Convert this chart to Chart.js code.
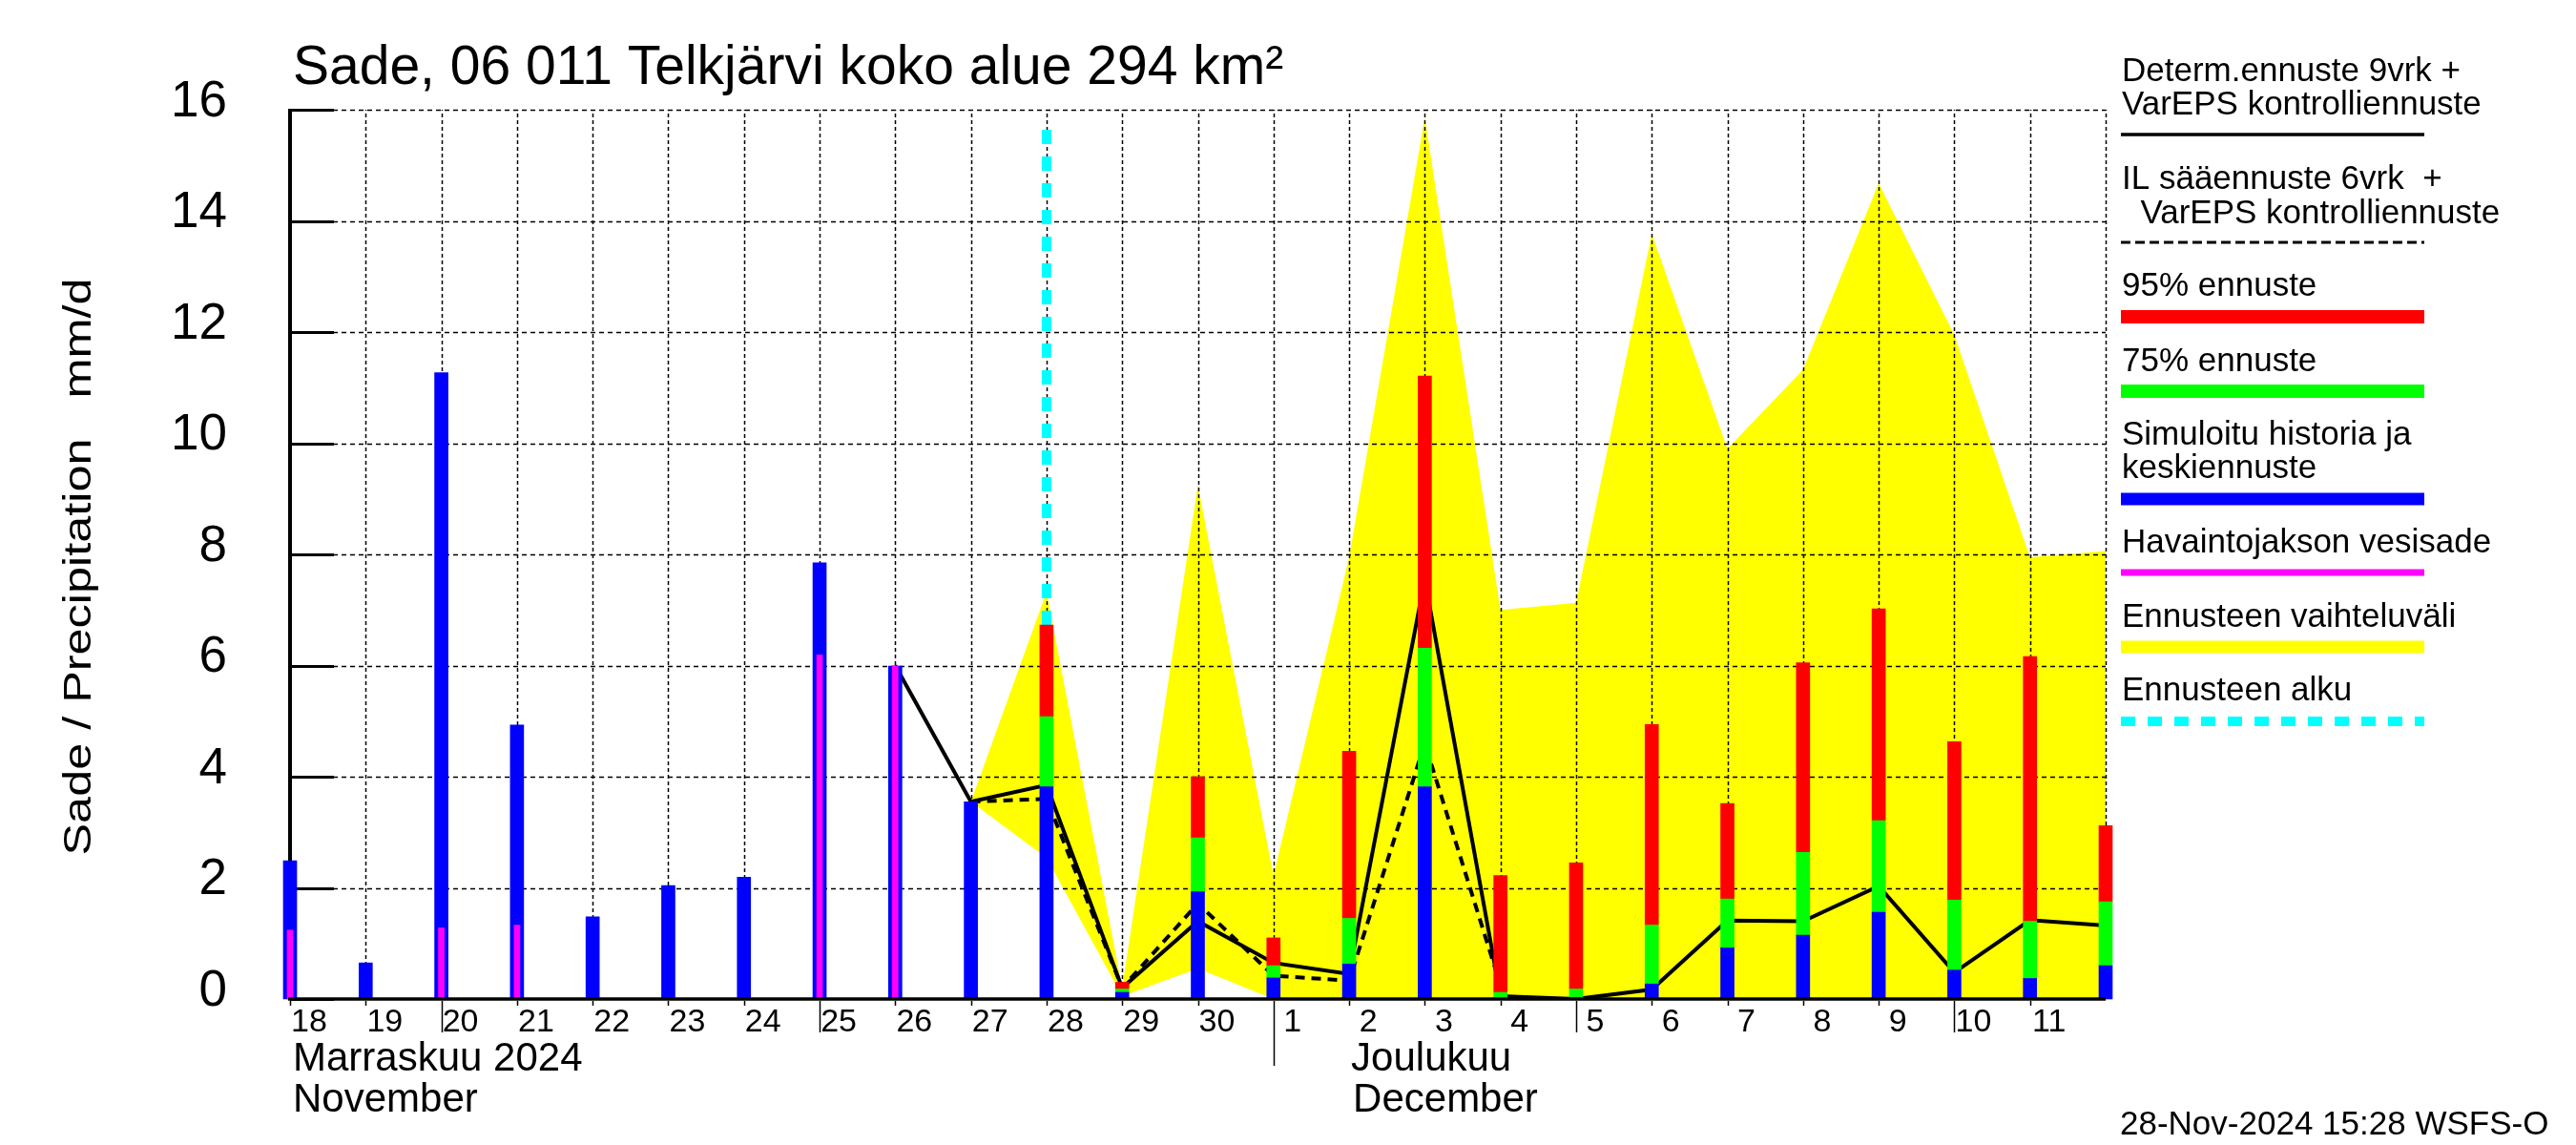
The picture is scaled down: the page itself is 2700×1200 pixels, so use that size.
<!DOCTYPE html>
<html lang="fi">
<head>
<meta charset="UTF-8">
<title>Sade, 06 011 Telkjärvi</title>
<style>
  html, body { margin: 0; padding: 0; background: #fff; }
  canvas { display: block; }
</style>
</head>
<body>
<canvas id="cvs" width="2700" height="1200"></canvas>
<script src="https://cdn.jsdelivr.net/npm/chart.js@4.4.1/dist/chart.umd.min.js"></script>
<script>
// x = day index, 0 = 18 Nov ... 24 = 12 Dec
const dayLabels = ['18','19','20','21','22','23','24','25','26','27','28','29','30',
                   '1','2','3','4','5','6','7','8','9','10','11',''];
const monthStart = 13;          // 1 Dec
const forecastStart = 10;       // 28 Nov
const forecastStartTop = 15.8;

// simulated history (blue) and observed rain (magenta), days 18..27
const histBlue = [2.49, 0.65, 11.27, 4.93, 1.48, 2.04, 2.19, 7.85, 5.99, 3.55];
const obsRain  = [1.24, 0, 1.28, 1.33, 0, 0, 0, 6.19, 5.99, 0];

// forecast bars, days 28 Nov .. 12 Dec (top of each colour)
const fcMean = [3.82, 0.12, 1.93, 0.38, 0.63, 3.82, 0, 0.02, 0.27, 0.92, 1.15, 1.56, 0.52, 0.37, 0.60];
const fc75   = [5.08, 0.18, 2.90, 0.60, 1.45, 6.31, 0.12, 0.18, 1.33, 1.80, 2.64, 3.21, 1.78, 1.40, 1.75];
const fc95   = [6.73, 0.30, 4.00, 1.10, 4.46, 11.21, 2.22, 2.45, 4.94, 3.52, 6.05, 7.02, 4.63, 6.16, 3.12];

// forecast range (yellow), days 27 Nov .. 12 Dec
const rangeStart = 9;
const rangeHigh = [3.55, 7.32, 0.20, 9.24, 2.22, 7.95, 15.86, 7.00, 7.13, 13.77, 9.90, 11.32, 14.68, 11.95, 7.95, 8.06];
const rangeLow  = [3.55, 2.54, 0.05, 0.55, 0, 0, 0, 0, 0, 0, 0, 0, 0, 0, 0, 0];

// deterministic forecast (solid), from 26 Nov
const determStart = 8;
const determ = [6.0, 3.55, 3.85, 0.2, 1.40, 0.65, 0.45, 7.55, 0.05, 0.0, 0.17, 1.41, 1.40, 2.03, 0.48, 1.42, 1.32];
// IL forecast (dashed), from 27 Nov
const ilStart = 9;
const ilFc = [3.55, 3.60, 0.2, 1.72, 0.42, 0.33, 4.60, 0.25];

const legendItems = [
  { text: ['Determ.ennuste 9vrk +', 'VarEPS kontrolliennuste'], color: '#000', width: 3.5, dash: [] },
  { text: ['IL sääennuste 6vrk  +', '  VarEPS kontrolliennuste'], color: '#000', width: 3, dash: [10, 5] },
  { text: ['95% ennuste'], color: '#ff0000', width: 14, dash: [] },
  { text: ['75% ennuste'], color: '#00ff00', width: 14, dash: [] },
  { text: ['Simuloitu historia ja', 'keskiennuste'], color: '#0000ff', width: 13, dash: [] },
  { text: ['Havaintojakson vesisade'], color: '#ff00ff', width: 7, dash: [] },
  { text: ['Ennusteen vaihteluväli'], color: '#ffff00', width: 13, dash: [] },
  { text: ['Ennusteen alku'], color: '#00ffff', width: 10, dash: [15, 13] }
];

const pts = (arr, start) => arr.map((v, i) => ({ x: start + i, y: v }));
const stack = (lo, hi, start) => hi.map((v, i) => ({ x: start + i, y: [lo ? lo[i] : 0, v] }));

Chart.defaults.font.family = '"Liberation Sans", Arial, sans-serif';
Chart.defaults.color = '#000';

const FONT = '"Liberation Sans", Arial, sans-serif';

function line(ctx, x1, y1, x2, y2) {
  ctx.beginPath(); ctx.moveTo(x1, y1); ctx.lineTo(x2, y2); ctx.stroke();
}

// grid + left axis drawn right after the yellow range, below lines and bars
const underPlugin = {
  id: 'under',
  afterDatasetDraw(chart, args) {
    if (args.index !== 0) return;
    const { ctx, chartArea: a, scales: { x, y } } = chart;
    ctx.save();
    ctx.strokeStyle = '#000';
    ctx.lineWidth = 1.5;
    ctx.setLineDash([5, 4]);
    y.ticks.forEach(t => {
      if (t.value === 0) return;
      const py = Math.round(y.getPixelForValue(t.value)) + 0.5;
      line(ctx, a.left, py, a.right, py);
    });
    ctx.setLineDash([4, 3]);
    x.ticks.forEach(t => {
      if (t.value === 0) return;
      const px = Math.round(x.getPixelForValue(t.value)) + 0.5;
      line(ctx, px, a.bottom, px, a.top);
    });
    ctx.setLineDash([]);
    ctx.lineWidth = 4;
    line(ctx, a.left, a.top - 1, a.left, a.bottom);
    ctx.lineWidth = 3;
    y.ticks.forEach(t => {
      const py = Math.round(y.getPixelForValue(t.value)) + 0.5;
      line(ctx, a.left, py, a.left + 46, py);
    });
    ctx.restore();
  },
  afterDatasetsDraw(chart) {
    const { ctx, chartArea: a, scales: { x } } = chart;
    ctx.save();
    ctx.strokeStyle = '#000';
    ctx.lineWidth = 3.5;
    line(ctx, a.left - 2, a.bottom, a.right, a.bottom);
    ctx.lineWidth = 1.5;
    x.ticks.forEach(t => {
      const i = t.value;
      const d = parseInt(dayLabels[i], 10);
      let len = 7;
      if (i === monthStart) len = 70;
      else if (d % 5 === 0 && d !== 30) len = 35;
      if (!dayLabels[i]) return;
      const px = Math.round(x.getPixelForValue(i)) + 0.5;
      line(ctx, px, a.bottom + 2, px, a.bottom + len);
    });
    ctx.restore();
  },
  afterDraw(chart) {
    const { ctx, chartArea: a, scales: { x } } = chart;
    ctx.save();
    ctx.fillStyle = '#000';
    ctx.textBaseline = 'alphabetic';
    ctx.textAlign = 'left';

    ctx.font = '57px ' + FONT;
    ctx.fillText('Sade, 06 011 Telkjärvi koko alue 294 km²', a.left + 3, 88);

    ctx.font = '42px ' + FONT;
    ctx.fillText('Marraskuu 2024', x.getPixelForValue(0) + 3, 1122);
    ctx.fillText('November', x.getPixelForValue(0) + 3, 1165);
    ctx.fillText('Joulukuu', x.getPixelForValue(monthStart + 1) + 2, 1122);
    ctx.fillText('December', x.getPixelForValue(monthStart + 1) + 4, 1165);

    ctx.font = '35px ' + FONT;
    ctx.fillText('28-Nov-2024 15:28 WSFS-O', 2222, 1189);

    // y axis title, stretched along its baseline
    const yTitle = 'Sade / Precipitation   mm/d';
    ctx.font = '40px ' + FONT;
    const w = ctx.measureText(yTitle).width;
    ctx.save();
    ctx.translate(95, 594);
    ctx.rotate(-Math.PI / 2);
    ctx.scale(605 / w, 1);
    ctx.textAlign = 'center';
    ctx.fillText(yTitle, 0, 0);
    ctx.restore();

    // legend
    const lx = 2224, lx2 = 2541;
    const base = [[85, 120, 141], [198, 234, 254], [310, 332], [389, 410], [466, 501, 523], [579, 600], [657, 678], [734, 756]];
    ctx.font = '35px ' + FONT;
    legendItems.forEach((it, k) => {
      const b = base[k];
      it.text.forEach((s, j) => ctx.fillText(s, lx, b[j]));
      const ly = b[b.length - 1];
      ctx.strokeStyle = it.color;
      ctx.lineWidth = it.width;
      ctx.setLineDash(it.dash);
      line(ctx, lx - 1, ly, lx2, ly);
    });
    ctx.restore();
  }
};

const barBase = { type: 'bar', barThickness: 14, grouped: false, clip: false, order: 1 };

new Chart(document.getElementById('cvs').getContext('2d'), {
  data: {
    datasets: [
      { type: 'line', label: 'Ennusteen vaihteluväli', data: pts(rangeHigh, rangeStart),
        borderWidth: 0, borderColor: 'rgba(0,0,0,0)', pointRadius: 0, tension: 0,
        fill: 1, backgroundColor: '#ffff00', order: 5 },
      { type: 'line', label: 'range low', data: pts(rangeLow, rangeStart),
        borderWidth: 0, borderColor: 'rgba(0,0,0,0)', pointRadius: 0, tension: 0,
        fill: false, order: 6 },
      { type: 'line', label: 'Ennusteen alku',
        data: [{ x: forecastStart, y: 0 }, { x: forecastStart, y: forecastStartTop }],
        borderColor: '#00ffff', borderWidth: 10, borderDash: [15, 13], borderCapStyle: 'butt',
        pointRadius: 0, fill: false, order: 3 },
      { type: 'line', label: 'Determ.ennuste', data: pts(determ, determStart),
        borderColor: '#000', borderWidth: 4, pointRadius: 0, tension: 0, fill: false, order: 2 },
      { type: 'line', label: 'IL sääennuste', data: pts(ilFc, ilStart),
        borderColor: '#000', borderWidth: 4, borderDash: [10, 7], pointRadius: 0, tension: 0,
        fill: false, order: 2 },
      { ...barBase, label: 'Simuloitu historia', data: stack(null, histBlue, 0), backgroundColor: '#0000ff' },
      { ...barBase, label: 'keskiennuste', data: stack(null, fcMean, forecastStart), backgroundColor: '#0000ff' },
      { ...barBase, label: '75% ennuste', data: stack(fcMean, fc75, forecastStart), backgroundColor: '#00ff00' },
      { ...barBase, label: '95% ennuste', data: stack(fc75, fc95, forecastStart), backgroundColor: '#ff0000' },
      { ...barBase, label: 'Havaintojakson vesisade', data: stack(null, obsRain, 0),
        backgroundColor: '#ff00ff', barThickness: 6, order: 0 }
    ]
  },
  options: {
    responsive: false,
    animation: false,
    devicePixelRatio: 1,
    layout: { padding: { left: 0, top: 115, right: 493, bottom: 0 } },
    plugins: { legend: { display: false }, tooltip: { enabled: false }, title: { display: false } },
    scales: {
      x: {
        type: 'linear', min: 0, max: 24, offset: false,
        grid: { display: false, drawTicks: false },
        border: { display: false },
        ticks: {
          stepSize: 1, autoSkip: false, maxRotation: 0, minRotation: 0,
          font: { size: 34 }, color: '#000', padding: 4, labelOffset: 20,
          callback: v => dayLabels[v] ?? ''
        },
        afterFit: s => { s.height = 153; }
      },
      y: {
        type: 'linear', min: 0, max: 16,
        grid: { display: false, drawTicks: false },
        border: { display: false },
        ticks: { stepSize: 2, font: { size: 53 }, color: '#000', padding: 66, labelOffset: -8 },
        afterFit: s => { s.width = 304; }
      }
    }
  },
  plugins: [underPlugin]
});
</script>
</body>
</html>
